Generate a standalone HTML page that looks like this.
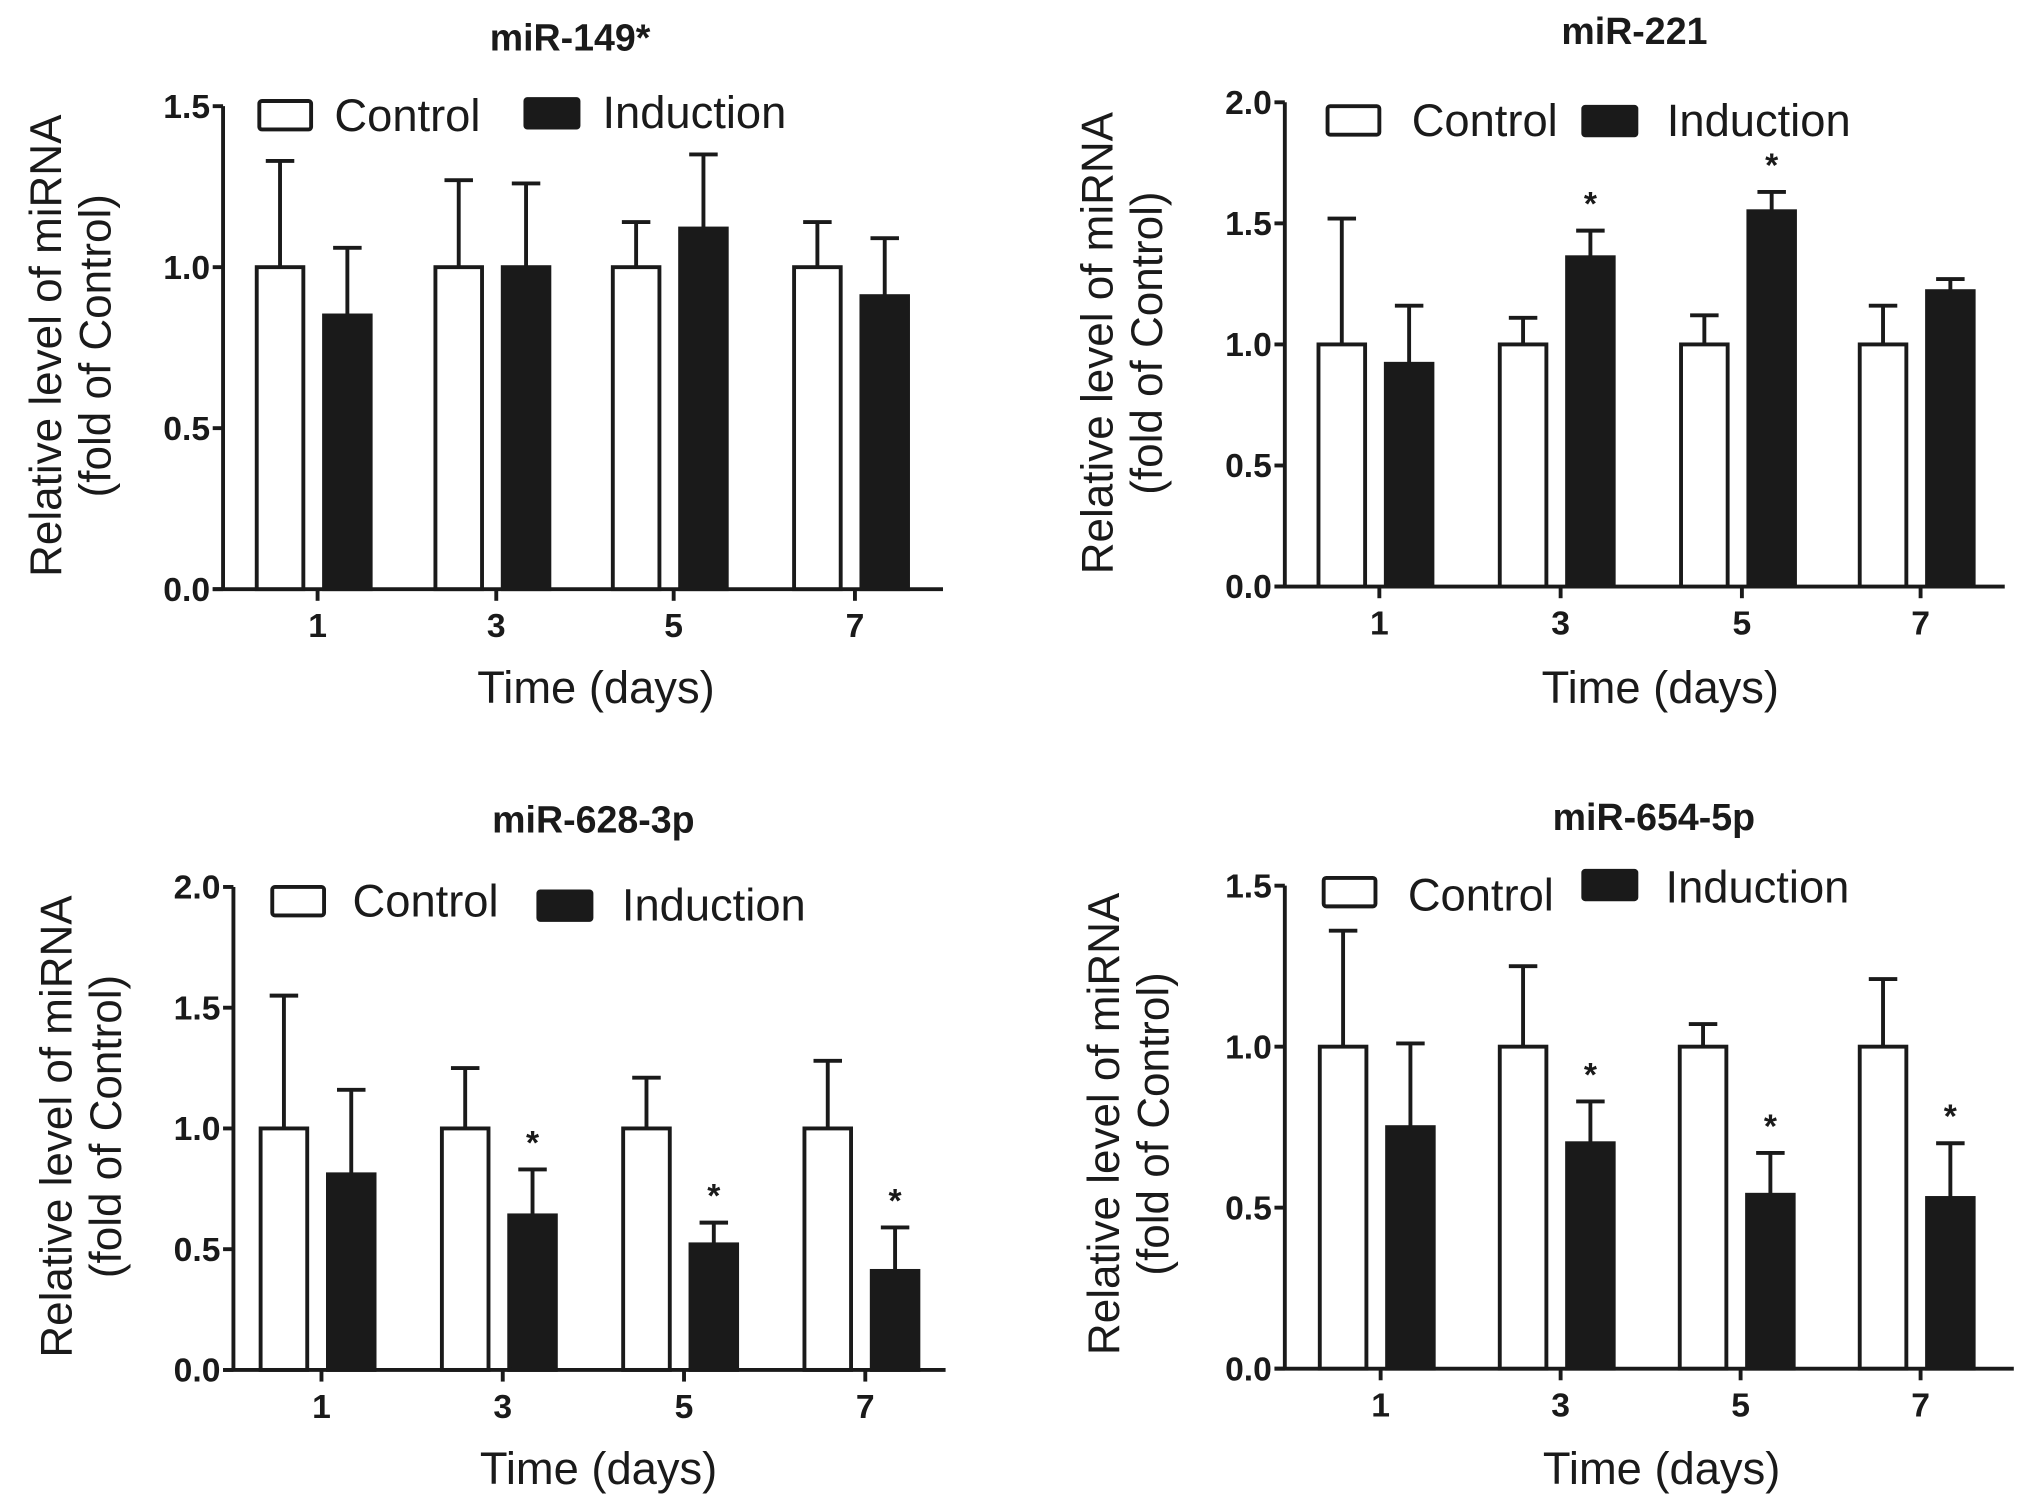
<!DOCTYPE html>
<html><head><meta charset="utf-8">
<style>
html,body{margin:0;padding:0;background:#fff;}
svg{display:block;}
text{font-family:"Liberation Sans",Arial,sans-serif;fill:#1a1a1a;}
</style></head>
<body>
<svg id="fig" width="2031" height="1502" viewBox="0 0 1568 1160" xmlns="http://www.w3.org/2000/svg"></svg>
<script>
const days = ["1","3","5","7"];
const p1Control = [1,1,1,1];
const p1ControlErr = [1.33,1.27,1.14,1.14];
const p1Induction = [0.85,1.0,1.12,0.91];
const p1InductionErr = [1.06,1.26,1.35,1.09];
const p1Stars = [false,false,false,false];
const p1Ticks = ["0.0","0.5","1.0","1.5"];

const p2Control = [1,1,1,1];
const p2ControlErr = [1.52,1.11,1.12,1.16];
const p2Induction = [0.92,1.36,1.55,1.22];
const p2InductionErr = [1.16,1.47,1.63,1.27];
const p2Stars = [false,true,true,false];
const p2Ticks = ["0.0","0.5","1.0","1.5","2.0"];

const p3Control = [1,1,1,1];
const p3ControlErr = [1.55,1.25,1.21,1.28];
const p3Induction = [0.81,0.64,0.52,0.41];
const p3InductionErr = [1.16,0.83,0.61,0.59];
const p3Stars = [false,true,true,true];
const p3Ticks = ["0.0","0.5","1.0","1.5","2.0"];

const p4Control = [1,1,1,1];
const p4ControlErr = [1.36,1.25,1.07,1.21];
const p4Induction = [0.75,0.70,0.54,0.53];
const p4InductionErr = [1.01,0.83,0.67,0.70];
const p4Stars = [false,true,true,true];
const p4Ticks = ["0.0","0.5","1.0","1.5"];

const NS="http://www.w3.org/2000/svg";
const svg=document.getElementById('fig');
function mk(tag,attrs,parent,txt){const e=document.createElementNS(NS,tag);for(const k in attrs)e.setAttribute(k,attrs[k]);if(txt!==undefined)e.textContent=txt;(parent||svg).appendChild(e);return e;}

const panels=[
 {id:'mir-149',title:'miR-149*',tx:440,ty:39,x0:172,x1:728,y0:455,yTop:82,ticks:p1Ticks,max:1.5,cx:[245,383,520,660],
  c:p1Control,ce:p1ControlErr,i:p1Induction,ie:p1InductionErr,s:p1Stars,
  lg:{cb:[200,78],ct:[258,101],ib:[405,76],it:[465,99]},yt:[52,267],xt:[460,543]},
 {id:'mir-221',title:'miR-221',tx:1262,ty:34,x0:992,x1:1548,y0:453,yTop:79,ticks:p2Ticks,max:2.0,cx:[1065,1205,1345,1483],
  c:p2Control,ce:p2ControlErr,i:p2Induction,ie:p2InductionErr,s:p2Stars,
  lg:{cb:[1025,82],ct:[1090,105],ib:[1222,82],it:[1287,105]},yt:[864,265],xt:[1282,543]},
 {id:'mir-628-3p',title:'miR-628-3p',tx:458,ty:643,x0:180,x1:730,y0:1058,yTop:685,ticks:p3Ticks,max:2.0,cx:[248,388,528,668],
  c:p3Control,ce:p3ControlErr,i:p3Induction,ie:p3InductionErr,s:p3Stars,
  lg:{cb:[210,685],ct:[272,708],ib:[415,688],it:[480,711]},yt:[60,870],xt:[462,1146]},
 {id:'mir-654-5p',title:'miR-654-5p',tx:1277,ty:641,x0:992,x1:1555,y0:1057,yTop:684,ticks:p4Ticks,max:1.5,cx:[1066,1205,1344,1483],
  c:p4Control,ce:p4ControlErr,i:p4Induction,ie:p4InductionErr,s:p4Stars,
  lg:{cb:[1022,678],ct:[1087,703],ib:[1222,672],it:[1286,697]},yt:[869,868],xt:[1283,1146]}
];

panels.forEach(p=>{
  const g=mk('g',{});
  
  
  const y=v=>p.y0-(v/p.max)*(p.y0-p.yTop);
  const t=mk('text',{x:p.tx,y:p.ty,'text-anchor':'middle','font-size':29,'font-weight':'bold'},g,p.title);
  
  
  const ya=mk('line',{x1:p.x0,y1:p.yTop,x2:p.x0,y2:p.y0,stroke:'#1a1a1a','stroke-width':3},g);
  
  
  const xa=mk('line',{x1:p.x0-8,y1:p.y0,x2:p.x1,y2:p.y0,stroke:'#1a1a1a','stroke-width':3},g);
  
  
  p.ticks.forEach((lab)=>{
    const v=parseFloat(lab);const yy=y(v);
    mk('line',{x1:p.x0-8,y1:yy,x2:p.x0,y2:yy,stroke:'#1a1a1a','stroke-width':3},g);
    const tl=mk('text',{x:p.x0-10,y:yy+9,'text-anchor':'end','font-size':26,'font-weight':'bold'},g,lab);
    
    
  });
  days.forEach((d,k)=>{
    const cx=p.cx[k];
    mk('line',{x1:cx,y1:p.y0,x2:cx,y2:p.y0+9,stroke:'#1a1a1a','stroke-width':3},g);
    const xl=mk('text',{x:cx,y:p.y0+37,'text-anchor':'middle','font-size':26,'font-weight':'bold'},g,d);
    
    
    const bw=36;
    const cl=cx-47, il=cx+5;
    [[cl,p.c[k],p.ce[k],'control'],[il,p.i[k],p.ie[k],'induction']].forEach(([l,v,e,nm])=>{
      const mx=l+bw/2;
      const el=mk('path',{d:`M${mx},${y(v)} V${y(e)} M${mx-11},${y(e)} H${mx+11}`,stroke:'#1a1a1a','stroke-width':3,fill:'none'},g);
      
      
    });
    const cb=mk('rect',{x:cl,y:y(p.c[k]),width:bw,height:p.y0-y(p.c[k]),fill:'#fff',stroke:'#1a1a1a','stroke-width':3},g);
    
    
    const ib=mk('rect',{x:il,y:y(p.i[k]),width:bw,height:p.y0-y(p.i[k]),fill:'#1a1a1a',stroke:'#1a1a1a','stroke-width':3},g);
    
    
    if(p.s[k]){
      const st=mk('text',{x:il+bw/2,y:y(p.ie[k])-12,'text-anchor':'middle','font-size':26,'font-weight':'bold'},g,'*');
      
      
    }
  });
  const L=p.lg;
  const lc=mk('rect',{x:L.cb[0],y:L.cb[1],width:40,height:22,fill:'#fff',stroke:'#1a1a1a','stroke-width':3,rx:2},g);
  
  
  const lct=mk('text',{x:L.ct[0],y:L.ct[1],'font-size':35},g,'Control');
  
  
  const li=mk('rect',{x:L.ib[0],y:L.ib[1],width:42,height:23,fill:'#1a1a1a',stroke:'#1a1a1a','stroke-width':2,rx:2},g);
  
  
  const lit=mk('text',{x:L.it[0],y:L.it[1],'font-size':35},g,'Induction');
  
  
  const yt=mk('text',{transform:`translate(${p.yt[0]},${p.yt[1]}) rotate(-90)`,'text-anchor':'middle','font-size':34},g);
  
  
  mk('tspan',{x:0,y:-5},yt,'Relative level of miRNA');
  mk('tspan',{x:0,y:33},yt,'(fold of Control)');
  const xt=mk('text',{x:p.xt[0],y:p.xt[1],'text-anchor':'middle','font-size':35},g,'Time (days)');
  
  
});
</script>
</body></html>
